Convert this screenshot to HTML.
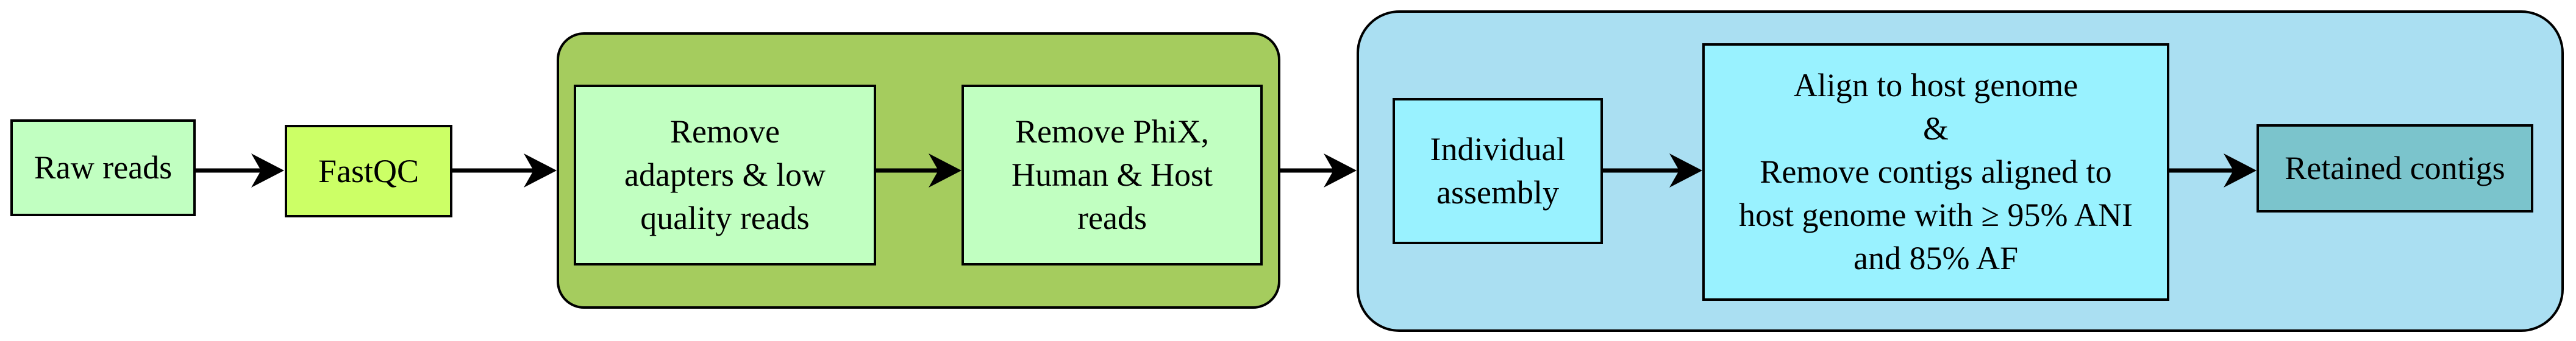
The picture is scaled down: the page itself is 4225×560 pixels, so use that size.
<!DOCTYPE html>
<html><head><meta charset="utf-8"><style>
html,body{margin:0;padding:0;background:#fff;}
body{width:4225px;height:560px;overflow:hidden;position:relative;}
.b{position:absolute;box-sizing:border-box;border:4px solid #000;display:flex;align-items:center;justify-content:center;text-align:center;font-family:"Liberation Serif","DejaVu Serif","Noto Serif CJK SC",serif;font-size:54px;line-height:71px;color:#000;}
svg{position:absolute;left:0;top:0;}
</style></head><body>
<div class="b" style="left:913px;top:53px;width:1187px;height:454px;background:#a5cc5e;border-radius:45px;"></div>
<div class="b" style="left:2225px;top:17px;width:1980px;height:528px;background:#aadff2;border-radius:70px;"></div>

<div class="b" style="left:17px;top:196px;width:304px;height:159px;background:#c1ffc1;">Raw reads</div>
<div class="b" style="left:467px;top:205px;width:275px;height:152px;background:#ccff66;">FastQC</div>
<div class="b" style="left:941px;top:139px;width:496px;height:297px;background:#c1ffc1;">Remove<br>adapters &amp; low<br>quality reads</div>
<div class="b" style="left:1577px;top:139px;width:494px;height:297px;background:#c1ffc1;">Remove PhiX,<br>Human &amp; Host<br>reads</div>
<div class="b" style="left:2284px;top:161px;width:345px;height:240px;background:#99f2ff;">Individual<br>assembly</div>
<div class="b" style="left:2792px;top:71px;width:766px;height:423px;background:#99f2ff;">Align to host genome<br>&amp;<br>Remove contigs aligned to<br>host genome with ≥ 95% ANI<br>and 85% AF</div>
<div class="b" style="left:3701px;top:204px;width:454px;height:145px;background:#7bc4cc;">Retained contigs</div>

<svg width="4225" height="560" viewBox="0 0 4225 560">
<g stroke="#000" stroke-width="7" fill="none">
<line x1="321" y1="280" x2="440" y2="280"/>
<line x1="742" y1="280" x2="887" y2="280"/>
<line x1="1437" y1="280" x2="1551" y2="280"/>
<line x1="2100" y1="280" x2="2199" y2="280"/>
<line x1="2629" y1="280" x2="2766" y2="280"/>
<line x1="3558" y1="280" x2="3675" y2="280"/>
</g>
<g fill="#000">
<path d="M466,280 L412,252 L428,280 L412,308 Z"/>
<path d="M913,280 L859,252 L875,280 L859,308 Z"/>
<path d="M1577,280 L1523,252 L1539,280 L1523,308 Z"/>
<path d="M2225,280 L2171,252 L2187,280 L2171,308 Z"/>
<path d="M2792,280 L2738,252 L2754,280 L2738,308 Z"/>
<path d="M3701,280 L3647,252 L3663,280 L3647,308 Z"/>
</g>
</svg>
</body></html>
